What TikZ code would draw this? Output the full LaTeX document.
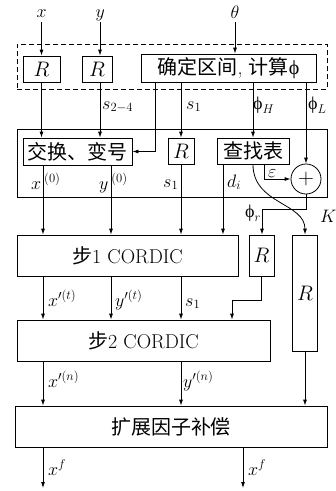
\RequirePackage{fix-cm}
\documentclass[tikz,border=0pt]{standalone}
\usepackage{amsmath}
\usepackage{fontspec}
\newfontfamily\cjk{Noto Sans CJK SC}
\newfontfamily\lbs{Liberation Serif}
\usetikzlibrary{arrows.meta,calc}
\newcommand{\uphi}{\text{\lbs ϕ}}
\begin{document}
\begin{tikzpicture}[x=1pt,y=-1pt,
  font=\fontsize{19}{22}\selectfont,
  bx/.style 2 args={draw,line width=0.8pt,inner sep=0pt,minimum width=#1,minimum height=#2},
  lbl/.style={inner sep=0pt,anchor=base west,font=\fontsize{18}{20}\selectfont},
  arr/.style={-{Latex[length=6pt,width=4pt]},line width=0.8pt},
  ln/.style={line width=0.8pt}]
\useasboundingbox (0,0) rectangle (336,491);
% frames
\node[draw,dashed,dash pattern=on 5pt off 3pt,line width=0.8pt,inner sep=0pt,minimum width=310pt,minimum height=45pt] (D) at (172,66.5) {};
\node[bx={310pt}{68pt}] (B2) at (172,163) {};
% boxes
\node[bx={37pt}{26pt},font=\fontsize{21}{24}\selectfont] (R1) at (41.5,69) {$R$};
\node[bx={30pt}{26pt},font=\fontsize{21}{24}\selectfont] (R2) at (97,69) {$R$};
\node[bx={175pt}{28pt},font=\fontsize{20}{24}\selectfont] (Q) at (228.5,68) {{\cjk 确定区间}, {\cjk 计算}{\lbs ϕ}};
\node[bx={109pt}{27pt},font=\fontsize{20}{24}\selectfont] (J) at (77.5,151.5) {{\cjk 交换、变号}};
\node[bx={26pt}{26pt},font=\fontsize{21}{24}\selectfont] (R3) at (181,151) {$R$};
\node[bx={72pt}{26pt},font=\fontsize{20}{24}\selectfont] (T) at (253,151) {{\cjk 查找表}};
\node[draw,circle,line width=0.8pt,minimum size=30pt,inner sep=0pt,font=\fontsize{22}{24}\selectfont] (C) at (306,179) {$+$};
\node[bx={221pt}{41pt},font=\fontsize{20}{24}\selectfont] (S1) at (127.5,255.5) {{\cjk 步}1 CORDIC};
\node[bx={25pt}{41pt},font=\fontsize{21}{24}\selectfont] (RS) at (261.5,255.5) {$R$};
\node[bx={25pt}{116pt},font=\fontsize{21}{24}\selectfont] (RT) at (305,293) {$R$};
\node[bx={253pt}{41pt},font=\fontsize{20}{24}\selectfont] (S2) at (143.5,340.5) {{\cjk 步}2 CORDIC};
\node[bx={312pt}{41pt},font=\fontsize{20}{24}\selectfont] (S3) at (171,426.5) {{\cjk 扩展因子补偿}};
% coordinates
\coordinate (xin) at (41.5,22);
\coordinate (yin) at (100,22);
\coordinate (thin) at (235,22);
\coordinate (c1) at (155,0);
\coordinate (e0) at (264,0);
\coordinate (r0) at (262,209);
\coordinate (d1) at (43,0);
\coordinate (d2) at (111,0);
\coordinate (d4) at (223,0);
\coordinate (r1) at (232,300);
\coordinate (o1) at (43,488);
\coordinate (o2) at (243,488);
% input labels
\node[lbl] (lx) at (36.5,17) {$x$};
\node[lbl] (ly) at (95.5,17) {$y$};
\node[lbl] (lth) at (230.5,18) {$\theta$};
% connectors
\draw[arr] (xin) -- (xin |- R1.north);
\draw[arr] (yin) -- (yin |- R2.north);
\draw[arr] (thin) -- (thin |- Q.north);
\draw[arr] (R1.south) -- (R1.south |- J.north);
\draw[arr] (yin |- R2.south) -- (yin |- J.north);
\draw[arr] (c1 |- Q.south) |- (J.east);
\draw[arr] (R3.north |- Q.south) -- (R3.north);
\draw[arr] (T.north |- Q.south) -- (T.north);
\draw[arr] (C.north |- Q.south) -- (C.north);
\draw[arr] (e0 |- T.south) |- (C.west);
\draw[arr] (T.south) .. controls ($(T.south)+(0,40)$) and ($(RT.north)+(0,-32)$) .. (RT.north);
\draw[arr] (C.south) |- (r0) -- (r0 |- RS.north);
\draw[arr] (d1 |- J.south) -- (d1 |- S1.north);
\draw[arr] (d2 |- J.south) -- (d2 |- S1.north);
\draw[arr] (R3.south) -- (R3.south |- S1.north);
\draw[arr] (d4 |- T.south) -- (d4 |- S1.north);
\draw[arr] (d1 |- S1.south) -- (d1 |- S2.north);
\draw[arr] (d2 |- S1.south) -- (d2 |- S2.north);
\draw[arr] (R3.south |- S1.south) -- (R3.south |- S2.north);
\draw[arr] (RS.south) |- (r1) -- (r1 |- S2.north);
\draw[arr] (d1 |- S2.south) -- (d1 |- S3.north);
\draw[arr] (R3.south |- S2.south) -- (R3.south |- S3.north);
\draw[arr] (RT.south) -- (RT.south |- S3.north);
\draw[arr] (d1 |- S3.south) -- (o1);
\draw[arr] (o2 |- S3.south) -- (o2);
% labels
\node[lbl] (ls24) at (102,109) {$s_{2-4}$};
\node[lbl] (ls1a) at (186,109) {$s_1$};
\node[lbl] (lph) at (253,109) {$\uphi_H$};
\node[lbl] (lpl) at (308,109) {$\uphi_L$};
\node[lbl] (leps) at (268,177) {$\varepsilon$};
\node[lbl] (lpr) at (245,217) {$\uphi_r$};
\node[lbl] (lK) at (320,222) {$K$};
\node[lbl] (lx0) at (31,189) {$x^{\hspace{3pt}(0)}$};
\node[lbl] (ly0) at (99,189) {$y^{\hspace{3pt}(0)}$};
\node[lbl] (ls1b) at (163,187) {$s_1$};
\node[lbl] (ldi) at (227,187) {$d_i$};
\node[lbl] (lxt) at (48,306) {$x'^{(t)}$};
\node[lbl] (lyt) at (115,306) {$y'^{(t)}$};
\node[lbl] (ls1c) at (185,306) {$s_1$};
\node[lbl] (lxn) at (48,387) {$x'^{(n)}$};
\node[lbl] (lyn) at (183,387) {$y'^{(n)}$};
\node[lbl] (lxf1) at (48,475) {$x^f$};
\node[lbl] (lxf2) at (248,475) {$x^f$};
\end{tikzpicture}
\end{document}
